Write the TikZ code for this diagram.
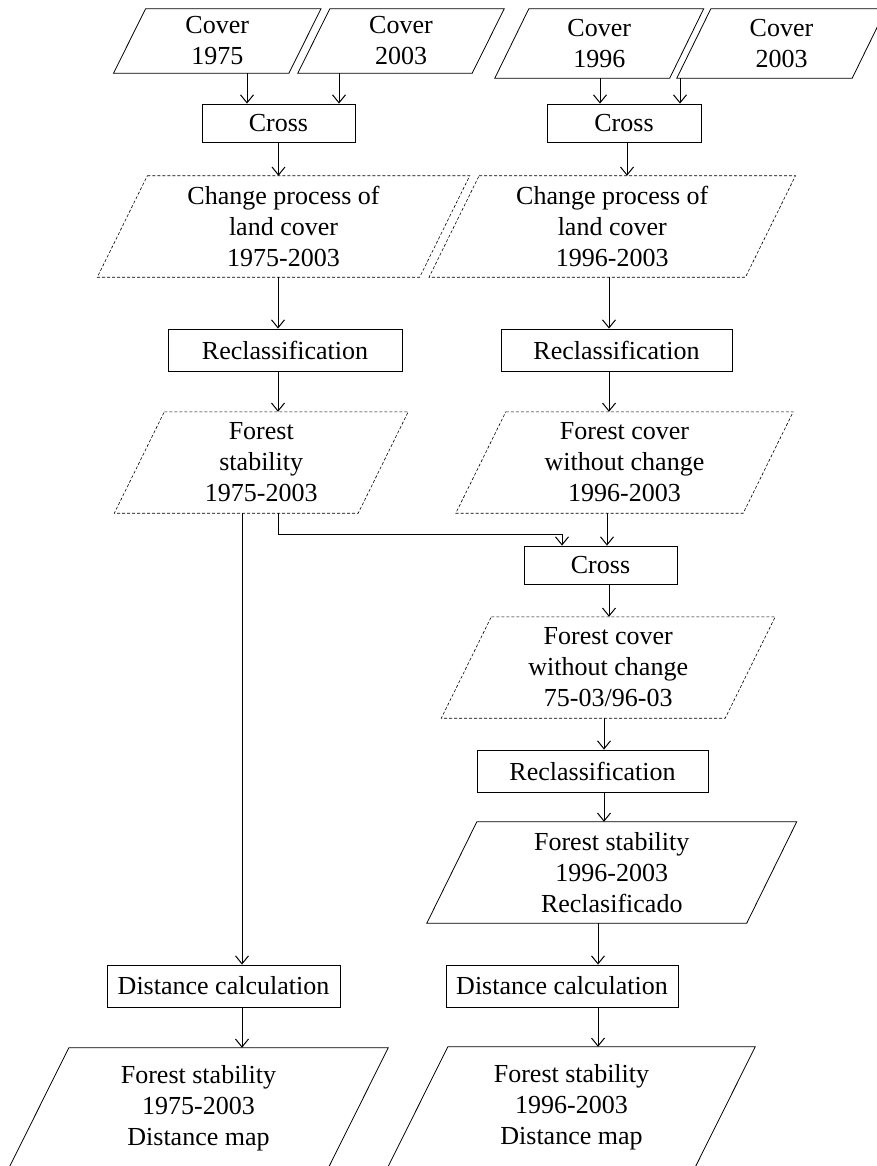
\documentclass[tikz,border=0pt]{standalone}
\usepackage{fontspec}
\setmainfont{Liberation Serif}
\usetikzlibrary{arrows.meta}

% outline of a data (parallelogram) node: top edge moved right, bottom edge moved left
\newcommand\paraoutline[3][]{%
  \draw[#1] ([xshift=#3]#2.north west) -- ([xshift=#3]#2.north east)
    -- ([xshift=-#3]#2.south east) -- ([xshift=-#3]#2.south west) -- cycle;}

\begin{document}
\begin{tikzpicture}[x=1pt,y=-1pt,
  every node/.style={font=\fontsize{26}{31}\selectfont, align=center, inner sep=0pt},
  data/.style={draw=none},
  procbox/.style={draw, line width=0.8pt},
  solidline/.style={line width=0.8pt},
  dashline/.style={line width=0.6pt, dash pattern=on 3pt off 2pt},
  arr/.style={line width=1pt, -{Straight Barb[length=8pt,width=13pt]}}]

\useasboundingbox (0,0) rectangle (877,1166);
\clip (0,0) rectangle (877,1166);

% ---- input layers
\node[data, minimum width=175pt, minimum height=64pt] (cov75) at (217.25,41) {Cover\\1975};
\node[data, minimum width=174pt, minimum height=64pt] (cov03a) at (401,41) {Cover\\2003};
\node[data, minimum width=174.5pt, minimum height=69pt] (cov96) at (599.25,43.5) {Cover\\1996};
\node[data, minimum width=175pt, minimum height=69pt] (cov03b) at (781.5,43.5) {Cover\\2003};
\paraoutline[solidline]{cov75}{16pt}
\paraoutline[solidline]{cov03a}{16pt}
\paraoutline[solidline]{cov96}{17pt}
\paraoutline[solidline]{cov03b}{17pt}

% ---- first crossings
\node[procbox, minimum width=153pt, minimum height=38pt] (crossA) at (278.5,123) {Cross};
\node[procbox, minimum width=154pt, minimum height=38pt] (crossB) at (624,123) {Cross};

\node[data, minimum width=322pt, minimum height=101pt] (chgA) at (283.5,226.5) {Change process of\\land cover\\1975-2003};
\node[data, minimum width=316pt, minimum height=101pt] (chgB) at (612.25,226.5) {Change process of\\land cover\\1996-2003};
\paraoutline[dashline]{chgA}{25pt}
\paraoutline[dashline]{chgB}{25pt}

% ---- reclassification
\node[procbox, minimum width=234pt, minimum height=42pt] (recA) at (285,350) {Reclassification};
\node[procbox, minimum width=231pt, minimum height=42pt] (recB) at (616.5,350) {Reclassification};

\node[data, minimum width=243.5pt, minimum height=101pt] (forA) at (261.25,462.5) {Forest\\stability\\1975-2003};
\node[data, minimum width=287pt, minimum height=101pt] (forB) at (624.5,462.5) {Forest cover\\without change\\1996-2003};
\paraoutline[dashline]{forA}{25pt}
\paraoutline[dashline]{forB}{25pt}

% ---- combined branch
\node[procbox, minimum width=153pt, minimum height=38pt] (crossC) at (600.5,565) {Cross};
\node[data, minimum width=283.5pt, minimum height=101pt] (forC) at (608.25,667.5) {Forest cover\\without change\\75-03/96-03};
\paraoutline[dashline]{forC}{25pt}
\node[procbox, minimum width=231pt, minimum height=42pt] (recC) at (592.5,771) {Reclassification};
\node[data, minimum width=319.5pt, minimum height=101pt] (forD) at (611.75,872.5) {Forest stability\\1996-2003\\Reclasificado};
\paraoutline[solidline]{forD}{25pt}

% ---- distance maps
\node[procbox, minimum width=233pt, minimum height=42pt] (distA) at (223.5,986) {Distance calculation};
\node[procbox, minimum width=232pt, minimum height=42pt] (distB) at (562,986) {Distance calculation};
\node[data, minimum width=319pt, minimum height=120pt] (mapA) at (198.5,1108) {Forest stability\\1975-2003\\Distance map};
\node[data, minimum width=307pt, minimum height=120pt] (mapB) at (571.5,1107) {Forest stability\\1996-2003\\Distance map};
\paraoutline[solidline]{mapA}{30pt}
\paraoutline[solidline]{mapB}{30pt}

% ---- connectors
\draw[arr] ([xshift=29.75pt]cov75.south) -- ([xshift=29.75pt]cov75.south |- crossA.north);
\draw[arr] ([xshift=-62pt]cov03a.south) -- ([xshift=-62pt]cov03a.south |- crossA.north);
\draw[arr] ([xshift=0.75pt]cov96.south) -- ([xshift=0.75pt]cov96.south |- crossB.north);
\draw[arr] ([xshift=-101.5pt]cov03b.south) -- ([xshift=-101.5pt]cov03b.south |- crossB.north);
\draw[arr] (crossA.south) -- (crossA.south |- chgA.north);
\draw[arr] ([xshift=3pt]crossB.south) -- ([xshift=3pt]crossB.south |- chgB.north);
\draw[arr] ([xshift=-5.5pt]chgA.south) -- ([xshift=-5.5pt]chgA.south |- recA.north);
\draw[arr] ([xshift=-3.25pt]chgB.south) -- ([xshift=-3.25pt]chgB.south |- recB.north);
\draw[arr] ([xshift=-7pt]recA.south) -- ([xshift=-7pt]recA.south |- forA.north);
\draw[arr] ([xshift=-7.5pt]recB.south) -- ([xshift=-7.5pt]recB.south |- forB.north);
\draw[arr] ([xshift=-19.25pt]forA.south) -- ([xshift=-19.25pt]forA.south |- distA.north);
\draw[arr] ([xshift=16.75pt]forA.south) -- ++(0,21) -| ([xshift=-38.5pt]crossC.north);
\draw[arr] ([xshift=-17.5pt]forB.south) -- ([xshift=-17.5pt]forB.south |- crossC.north);
\draw[arr] ([xshift=8.5pt]crossC.south) -- ([xshift=8.5pt]crossC.south |- forC.north);
\draw[arr] ([xshift=-4.25pt]forC.south) -- ([xshift=-4.25pt]forC.south |- recC.north);
\draw[arr] ([xshift=11.5pt]recC.south) -- ([xshift=11.5pt]recC.south |- forD.north);
\draw[arr] ([xshift=-13.75pt]forD.south) -- ([xshift=-13.75pt]forD.south |- distB.north);
\draw[arr] ([xshift=36pt]distB.south) -- ([xshift=36pt]distB.south |- mapB.north);
\draw[arr] ([xshift=18.5pt]distA.south) -- ([xshift=18.5pt]distA.south |- mapA.north);
\end{tikzpicture}
\end{document}
